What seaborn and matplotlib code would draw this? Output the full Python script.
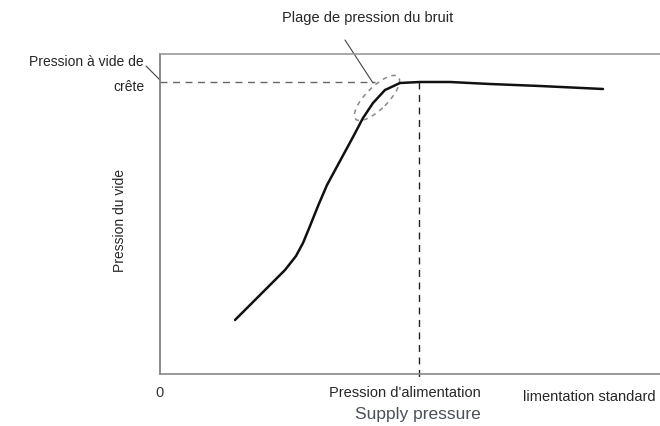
import matplotlib
matplotlib.use("Agg")
import matplotlib.pyplot as plt
from matplotlib.patches import Ellipse
import seaborn as sns
import pandas as pd

# curve (arbitrary units, axis box is 500 x 320)
supply = [75, 90, 110, 125, 136, 143, 150, 158, 167, 180, 193, 203, 213, 225, 240, 260, 290, 330, 380, 443]
vacuum = [54, 69, 89, 104, 118, 131, 148, 168, 189, 213, 237, 256, 271, 284, 291, 292, 292, 290, 288, 285]
peak_vacuum = 292
supply_at_peak = 259

df = pd.DataFrame({"supply": supply, "vacuum": vacuum})

sns.set_style("white")
plt.rcParams["font.family"] = ["Liberation Sans", "DejaVu Sans"]

fig = plt.figure(figsize=(6.6, 4.26), dpi=100)
ax = fig.add_axes([160 / 660, 52 / 426, 500 / 660, 320 / 426])

sns.lineplot(data=df, x="supply", y="vacuum", color="#111111", linewidth=1.8, ax=ax)

# dashed guides
ax.plot([0, 215], [peak_vacuum, peak_vacuum], ls=(0, (5, 4)), color="#666666", lw=1.0)
ax.plot([supply_at_peak, supply_at_peak], [peak_vacuum, -3], ls=(0, (5, 4)), color="#222222",
        lw=1.0, clip_on=False)

# noise range ellipse
ax.add_patch(Ellipse((217, 276), 60, 22, angle=45, fill=False, ls=(0, (3, 3)),
                     edgecolor="#888888", lw=1.1))
ax.plot([185, 213], [334, 291], color="#444444", lw=0.8, clip_on=False)
ax.plot([-14, 0], [308, 294], color="#444444", lw=0.8, clip_on=False)

ax.set_xlim(0, 500)
ax.set_ylim(0, 320)
ax.set_xticks([])
ax.set_yticks([])
ax.set_xlabel("")
ax.set_ylabel("")
for side in ["left", "bottom", "top"]:
    ax.spines[side].set_visible(True)
    ax.spines[side].set_linewidth(1.2)
ax.spines["left"].set_color("#777777")
ax.spines["bottom"].set_color("#888888")
ax.spines["top"].set_color("#999999")
ax.spines["right"].set_visible(False)

fig.text(368 / 660, 1 - 18 / 426, "Plage de pression du bruit", ha="center", va="center", fontsize=10.5)
fig.text(144 / 660, 1 - 62 / 426, "Pression à vide de", ha="right", va="center", fontsize=10)
fig.text(144 / 660, 1 - 87 / 426, "crête", ha="right", va="center", fontsize=10)
fig.text(120 / 660, 1 - 220 / 426, "Pression du vide", ha="center", va="center", fontsize=10,
         rotation=90)
fig.text(160 / 660, 1 - 393 / 426, "0", ha="center", va="center", fontsize=10.5, color="#333333")
fig.text(405 / 660, 1 - 393 / 426, "Pression d'alimentation", ha="center", va="center", fontsize=10.5)
fig.text(589 / 660, 1 - 397 / 426, "limentation standard", ha="center", va="center", fontsize=10.5)
fig.text(418 / 660, 1 - 415 / 426, "Supply pressure", ha="center", va="center", fontsize=12.5,
         color="#4a505a")

plt.savefig("out.png", dpi=100)
